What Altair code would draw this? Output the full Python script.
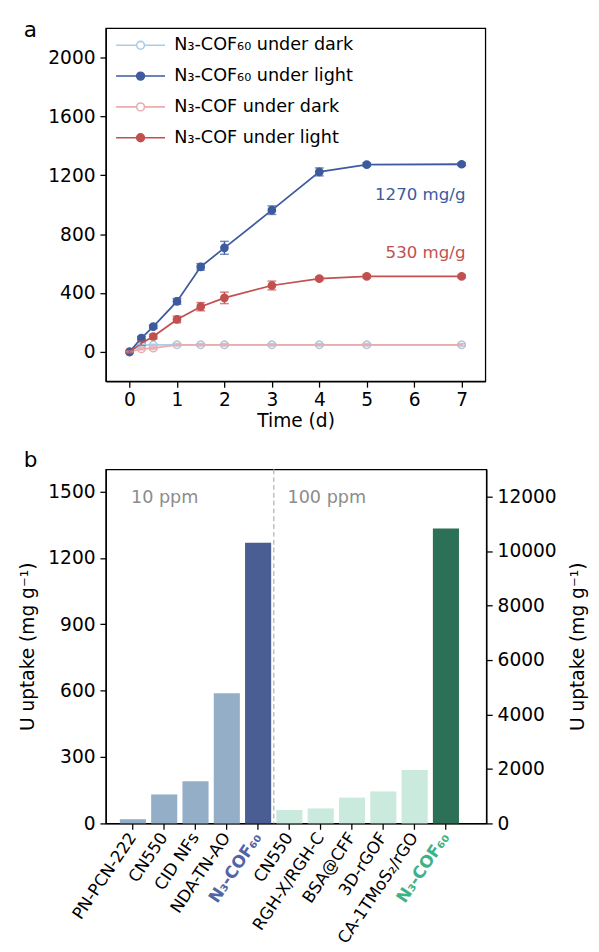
import altair as alt
import pandas as pd

FONT = "DejaVu Sans"

# ---------------- Panel a data ----------------
time_d = [0, 0.25, 0.5, 1, 1.5, 2, 3, 4, 5, 7]
series_names = ["N₃-COF₆₀ under dark", "N₃-COF₆₀ under light",
                "N₃-COF under dark", "N₃-COF under light"]
cof60_dark = [0, 46, 47, 48, 48, 48, 48, 48, 48, 48]
cof60_dark_err = [4, 6, 6, 6, 6, 6, 6, 6, 6, 6]
cof60_light = [0, 93, 171, 343, 578, 707, 963, 1223, 1273, 1275]
cof60_light_err = [6, 12, 12, 20, 22, 44, 29, 27, 12, 10]
cof_dark = [0, 20, 25, 48, 48, 48, 48, 48, 48, 48]
cof_dark_err = [4, 8, 10, 8, 8, 8, 8, 8, 8, 8]
cof_light = [0, 58, 104, 220, 307, 367, 451, 498, 513, 513]
cof_light_err = [6, 15, 15, 22, 28, 39, 30, 10, 12, 10]

ann_text = ["1270 mg/g", "530 mg/g"]
ann_series = ["N₃-COF₆₀ under light", "N₃-COF under light"]
ann_x = [7.08, 7.08]
ann_y = [1062, 670]

# ---------------- Panel b data ----------------
bar_names = ["PN-PCN-222", "CN550", "CID NFs", "NDA-TN-AO", "N₃-COF₆₀",
             "CN550", "RGH-X/RGH-C", "BSA@CFF", "3D-rGOF", "CA-1TMoS₂/rGO", "N₃-COF₆₀"]
bar_values = [19, 131, 191, 588, 1268,
              491, 551, 946, 1174, 1964, 10830]
bar_ppm = ["10 ppm"] * 5 + ["100 ppm"] * 6
bar_kind = ["ref", "ref", "ref", "ref", "this",
            "ref", "ref", "ref", "ref", "ref", "this"]
ppm_labels = ["10 ppm", "100 ppm"]
ppm_idx = [0, 5]
ppm_y = [1470, 1470]

# ---------------- styles ----------------
line_colors = ["#a9cde6", "#3d5b9e", "#e9acaf", "#c1514f"]
fill_colors = ["white", "#3d5b9e", "white", "#c1514f"]
bar_color_domain = ["10 ppm ref", "10 ppm this", "100 ppm ref", "100 ppm this"]
bar_color_range = ["#94aec8", "#4a5e93", "#c9eadc", "#2c7157"]

# ---------------- build panel a ----------------
rows = []
for name, vals, errs in zip(series_names,
                            [cof60_dark, cof60_light, cof_dark, cof_light],
                            [cof60_dark_err, cof60_light_err, cof_dark_err, cof_light_err]):
    for t, v, e in zip(time_d, vals, errs):
        rows.append({"time": t, "uptake": v, "lo": v - e, "hi": v + e, "series": name})
df_a = pd.DataFrame(rows)
df_ann = pd.DataFrame({"time": ann_x, "uptake": ann_y, "label": ann_text, "series": ann_series})

W, H = 388, 361
xs = alt.Scale(domain=[-0.5, 7.5], nice=False, zero=False)
ys = alt.Scale(domain=[-200, 2200], nice=False, zero=False)
X = alt.X("time:Q", scale=xs,
          axis=alt.Axis(values=list(range(8)), format="d", title="Time (d)",
                        labelPadding=4, titlePadding=2))
Y = alt.Y("uptake:Q", scale=ys,
          axis=alt.Axis(values=[0, 400, 800, 1200, 1600, 2000], format="d",
                        title="U uptake (mg g⁻¹)", labelPadding=5, titlePadding=11))

sym_path = ("M-2,0L-0.32,0M0.32,0L2,0M0.32,0A0.32,0.32,0,1,1,-0.32,0"
            "A0.32,0.32,0,1,1,0.32,0Z")
leg = alt.Legend(title=None, orient="none", legendX=22, legendY=4,
                 symbolType=sym_path, symbolSize=625, symbolStrokeWidth=1.6,
                 labelFontSize=18, labelFont=FONT, labelOffset=21, rowPadding=8.5,
                 labelLimit=400)
stroke_enc = alt.Stroke("series:N", scale=alt.Scale(domain=series_names, range=line_colors), legend=leg)
fill_enc = alt.Fill("series:N", scale=alt.Scale(domain=series_names, range=fill_colors), legend=leg)
color_enc = alt.Color("series:N", scale=alt.Scale(domain=series_names, range=line_colors), legend=None)

base_a = alt.Chart(df_a)
pts = base_a.mark_point(shape="circle", size=55, filled=True, strokeWidth=1.5, opacity=1).encode(
    x=X, y=Y, stroke=stroke_enc, fill=fill_enc, order=alt.Order("series:N"))
lines = base_a.mark_line(strokeWidth=1.8).encode(x=X, y=Y, stroke=stroke_enc, detail="series:N")
errs = base_a.mark_errorbar(ticks={"size": 9}, thickness=1.5).encode(
    x=alt.X("time:Q", scale=xs), y=alt.Y("lo:Q", scale=ys, title=None), y2="hi:Q", color=color_enc)
ann = alt.Chart(df_ann).mark_text(align="right", baseline="middle", fontSize=17, font=FONT).encode(
    x=alt.X("time:Q", scale=xs), y=alt.Y("uptake:Q", scale=ys), text="label:N", color=color_enc)
letter_a = alt.Chart(pd.DataFrame({"t": ["a"]})).mark_text(
    fontSize=22, font=FONT, align="left", baseline="alphabetic").encode(
    text="t:N", x=alt.value(-84), y=alt.value(9))

panel_a = alt.layer(pts, lines, errs, ann, letter_a).properties(width=W, height=H)

# ---------------- build panel b ----------------
df_b = pd.DataFrame({"idx": list(range(len(bar_names))), "name": bar_names, "value": bar_values,
                     "ppm": bar_ppm, "kind": [p + " " + k for p, k in zip(bar_ppm, bar_kind)]})
df_ppm = pd.DataFrame({"idx": ppm_idx, "value": ppm_y, "label": ppm_labels})

names_js = "[" + ",".join("'" + n + "'" for n in bar_names) + "]"
xb_scale = alt.Scale(domain=list(range(len(bar_names))), paddingInner=0.166,
                     paddingOuter=0.661, align=0.339)
xb_axis = alt.Axis(title=None, labelExpr=names_js + "[datum.value]", labelAngle=-56,
                   labelFontSize=17, labelPadding=5,
                   labelColor={"condition": [{"test": "datum.value == 4", "value": "#5064a6"},
                                             {"test": "datum.value == 10", "value": "#3bb389"}],
                               "value": "black"},
                   labelFontWeight={"condition": {"test": "datum.value == 4 || datum.value == 10",
                                                  "value": "bold"},
                                    "value": "normal"})
XB = alt.X("idx:O", scale=xb_scale, axis=xb_axis)
bar_color = alt.Color("kind:N", scale=alt.Scale(domain=bar_color_domain, range=bar_color_range), legend=None)

yl_scale = alt.Scale(domain=[0, 1600], nice=False)
yr_scale = alt.Scale(domain=[0, 13000], nice=False)

bars_left = alt.Chart(df_b).transform_filter(alt.datum.ppm == "10 ppm").mark_bar().encode(
    x=XB, y=alt.Y("value:Q", scale=yl_scale,
                  axis=alt.Axis(values=[0, 300, 600, 900, 1200, 1500], format="d",
                                title="U uptake (mg g⁻¹)", labelPadding=5, titlePadding=11)),
    color=bar_color)
ppm_text = alt.Chart(df_ppm).mark_text(align="left", baseline="middle", fontSize=18, font=FONT,
                                       color="#8c8c8c", dx=-2).encode(
    x=XB, y=alt.Y("value:Q", scale=yl_scale), text="label:N")
sep_rule = alt.Chart(pd.DataFrame({"idx": [4]})).mark_rule(
    color="#b0b0b0", strokeDash=[5, 3], strokeWidth=1.2, xOffset=2.7).encode(
    x=alt.X("idx:O", scale=xb_scale, bandPosition=1))
letter_b = alt.Chart(pd.DataFrame({"t": ["b"]})).mark_text(
    fontSize=22, font=FONT, align="left", baseline="alphabetic").encode(
    text="t:N", x=alt.value(-84), y=alt.value(-2))

left_layer = alt.layer(bars_left, ppm_text, sep_rule, letter_b)
bars_right = alt.Chart(df_b).transform_filter(alt.datum.ppm == "100 ppm").mark_bar().encode(
    x=XB, y=alt.Y("value:Q", scale=yr_scale,
                  axis=alt.Axis(values=[0, 2000, 4000, 6000, 8000, 10000, 12000], format="d",
                                orient="right", title="U uptake (mg g⁻¹)", titleAngle=270,
                                labelPadding=5, titlePadding=32)),
    color=bar_color)

panel_b = alt.layer(left_layer, bars_right).resolve_scale(y="independent").properties(width=389, height=362)

chart = alt.vconcat(panel_a, panel_b, spacing=18).resolve_scale(
    color="independent", fill="independent", stroke="independent"
).properties(
    padding={"left": 9, "top": 0, "right": 2, "bottom": 2}
).configure_view(stroke="black", strokeWidth=1.3).configure_axis(
    domainColor="black", tickColor="black", labelColor="black", titleColor="black",
    labelFont=FONT, titleFont=FONT, labelFontSize=19, titleFontSize=19,
    titleFontWeight="normal", grid=False, tickSize=6, domainWidth=1.3, tickWidth=1.3
).configure_text(font=FONT)

chart.save("out.html", embed_options={"renderer": "svg", "actions": False})
